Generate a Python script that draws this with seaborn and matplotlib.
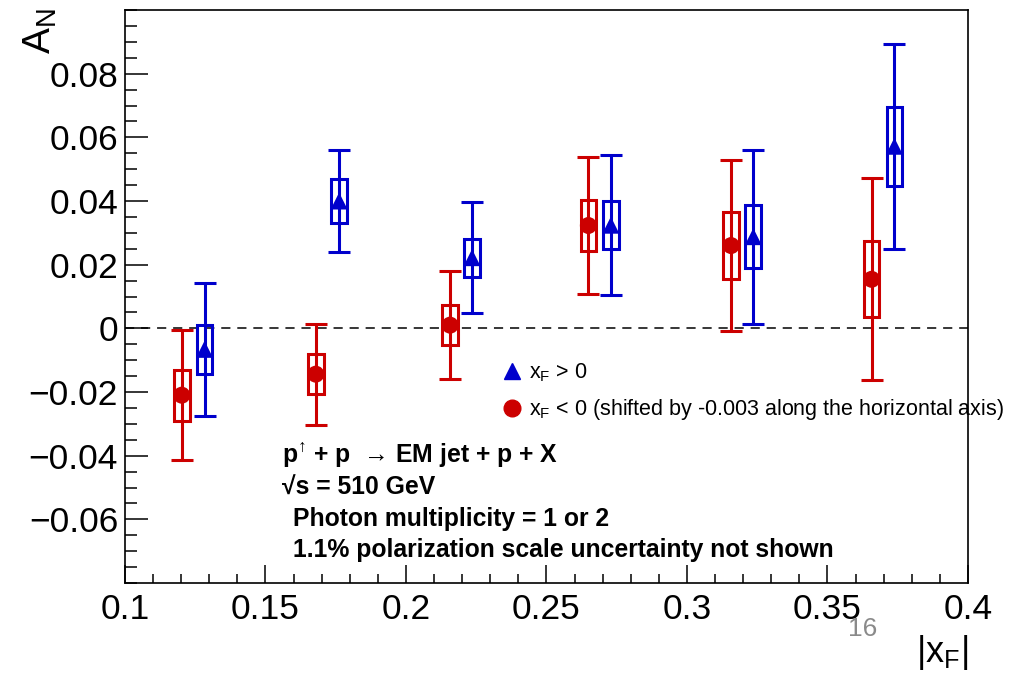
import matplotlib
matplotlib.use("Agg")
import matplotlib.pyplot as plt
from matplotlib.patches import Rectangle
from matplotlib.lines import Line2D
from matplotlib.ticker import MultipleLocator, FixedLocator, FixedFormatter
import seaborn as sns
import pandas as pd

# ---------------- data ----------------
blue_x = [0.1283, 0.1762, 0.2235, 0.2729, 0.3236, 0.3738]
blue_y = [-0.0066, 0.0400, 0.0222, 0.0324, 0.0288, 0.0572]
blue_stat = [0.0208, 0.0161, 0.0174, 0.0220, 0.0273, 0.0322]
blue_sys = [0.0077, 0.0070, 0.0060, 0.0076, 0.0098, 0.0124]

red_x = [0.1202, 0.1679, 0.2157, 0.2649, 0.3157, 0.3657]
red_y = [-0.0210, -0.0144, 0.0010, 0.0323, 0.0260, 0.0154]
red_stat = [0.0205, 0.0159, 0.0170, 0.0215, 0.0268, 0.0317]
red_sys = [0.0080, 0.0063, 0.0063, 0.0080, 0.0104, 0.0119]

x_ticks = [0.1, 0.15, 0.2, 0.25, 0.3, 0.35, 0.4]
x_tick_labels = ["0.1", "0.15", "0.2", "0.25", "0.3", "0.35", "0.4"]
y_ticks = [-0.06, -0.04, -0.02, 0.0, 0.02, 0.04, 0.06, 0.08]
y_tick_labels = ["\u22120.06", "\u22120.04", "\u22120.02", "0", "0.02", "0.04", "0.06", "0.08"]

legend_labels = ["x$_\\mathregular{F}$ > 0",
                 "x$_\\mathregular{F}$ < 0 (shifted by -0.003 along the horizontal axis)"]
info_lines = ["p$^{\\mathregular{\u2191}}$ + p  \u2192 EM jet + p + X",
              "\u221as = 510 GeV",
              "Photon multiplicity = 1 or 2",
              "1.1% polarization scale uncertainty not shown"]

RED = "#cc0000"
BLUE = "#0000cc"

# ---------------- style ----------------
sns.set_theme(style="white")
REG = ["Liberation Sans", "DejaVu Sans"]
plt.rcParams["font.family"] = REG
plt.rcParams["mathtext.default"] = "regular"
for k in ["text.color", "axes.labelcolor", "xtick.color", "ytick.color", "axes.edgecolor"]:
    plt.rcParams[k] = "black"

fig = plt.figure(figsize=(10.25, 6.8), dpi=100)
ax = fig.add_axes([125 / 1025, 97 / 680, 843 / 1025, 573 / 680])
ax.set_xlim(0.1, 0.4)
ax.set_ylim(-0.08, 0.1)

# zero line
ax.axhline(0, color="black", lw=1.1, ls=(0, (6, 4.5)), zorder=1)

BOX_HW = 0.0028
# systematic boxes
for xs, ys, ss, c in [(red_x, red_y, red_sys, RED), (blue_x, blue_y, blue_sys, BLUE)]:
    for xv, yv, sv in zip(xs, ys, ss):
        ax.add_patch(Rectangle((xv - BOX_HW, yv - sv), 2 * BOX_HW, 2 * sv,
                               fill=False, edgecolor=c, lw=2.2, zorder=2))

# statistical error bars
ax.errorbar(red_x, red_y, yerr=red_stat, fmt="none", ecolor=RED, elinewidth=2.2,
            capsize=8, capthick=2.2, zorder=3)
ax.errorbar(blue_x, blue_y, yerr=blue_stat, fmt="none", ecolor=BLUE, elinewidth=2.2,
            capsize=8, capthick=2.2, zorder=3)

# markers via seaborn
df = pd.DataFrame({
    "x": blue_x + red_x,
    "y": blue_y + red_y,
    "series": ["pos"] * len(blue_x) + ["neg"] * len(red_x),
})
sns.scatterplot(data=df, x="x", y="y", hue="series", style="series",
                palette={"pos": BLUE, "neg": RED},
                markers={"pos": "^", "neg": "o"},
                s=150, linewidth=0, ax=ax, legend=False, zorder=4)

# ---------------- axes styling ----------------
for sp in ax.spines.values():
    sp.set_color("black")
    sp.set_linewidth(1.2)
ax.xaxis.set_major_locator(FixedLocator(x_ticks))
ax.xaxis.set_major_formatter(FixedFormatter(x_tick_labels))
ax.xaxis.set_minor_locator(MultipleLocator(0.01))
ax.yaxis.set_major_locator(FixedLocator(y_ticks))
ax.yaxis.set_major_formatter(FixedFormatter(y_tick_labels))
ax.yaxis.set_minor_locator(MultipleLocator(0.005))
ax.tick_params(axis="x", which="major", direction="in", length=13, width=1.1,
               pad=7, labelsize=25.5, bottom=True, top=False)
ax.tick_params(axis="x", which="minor", direction="in", length=6.5, width=1.1,
               bottom=True, top=False)
ax.tick_params(axis="y", which="major", direction="in", length=16.5, width=1.1,
               pad=5, labelsize=25.5, left=True, right=False)
ax.tick_params(axis="y", which="minor", direction="in", length=8.5, width=1.1,
               left=True, right=False)
ax.set_xlabel("")
ax.set_ylabel("")
ax.grid(False)

# axis titles
fig.text(22 / 1025, 1 - 8 / 680, "A$_\\mathregular{N}$", rotation=90, ha="left", va="top",
         fontsize=28)
fig.text(968 / 1025, 1 - 662 / 680, "|x$_\\mathregular{F}$|", ha="right", va="baseline",
         fontsize=26)
fig.text(863 / 1025, 1 - 629 / 680, "16", ha="center", va="center", fontsize=19,
         color="#8a8a8a")

# legend
handles = [Line2D([], [], marker="^", color=BLUE, ls="none", markersize=11),
           Line2D([], [], marker="o", color=RED, ls="none", markersize=12)]
leg = ax.legend(handles, legend_labels, loc="center left",
                bbox_to_anchor=((502 - 125) / 843, (583 - 392) / 573),
                frameon=False, handlelength=0.9, handletextpad=0.35,
                labelspacing=0.6, borderpad=0, borderaxespad=0,
                prop={"size": 15.5})

# info text
info_x = [(282 - 125) / 843, (282 - 125) / 843, (293 - 125) / 843, (293 - 125) / 843]
info_base = [463, 495, 526, 557]
for t, xf, yb in zip(info_lines, info_x, info_base):
    ax.text(xf, (583 - yb) / 573, t, transform=ax.transAxes, ha="left", va="baseline",
            fontsize=17.8, fontweight="bold")

fig.savefig("out.png", dpi=100)
